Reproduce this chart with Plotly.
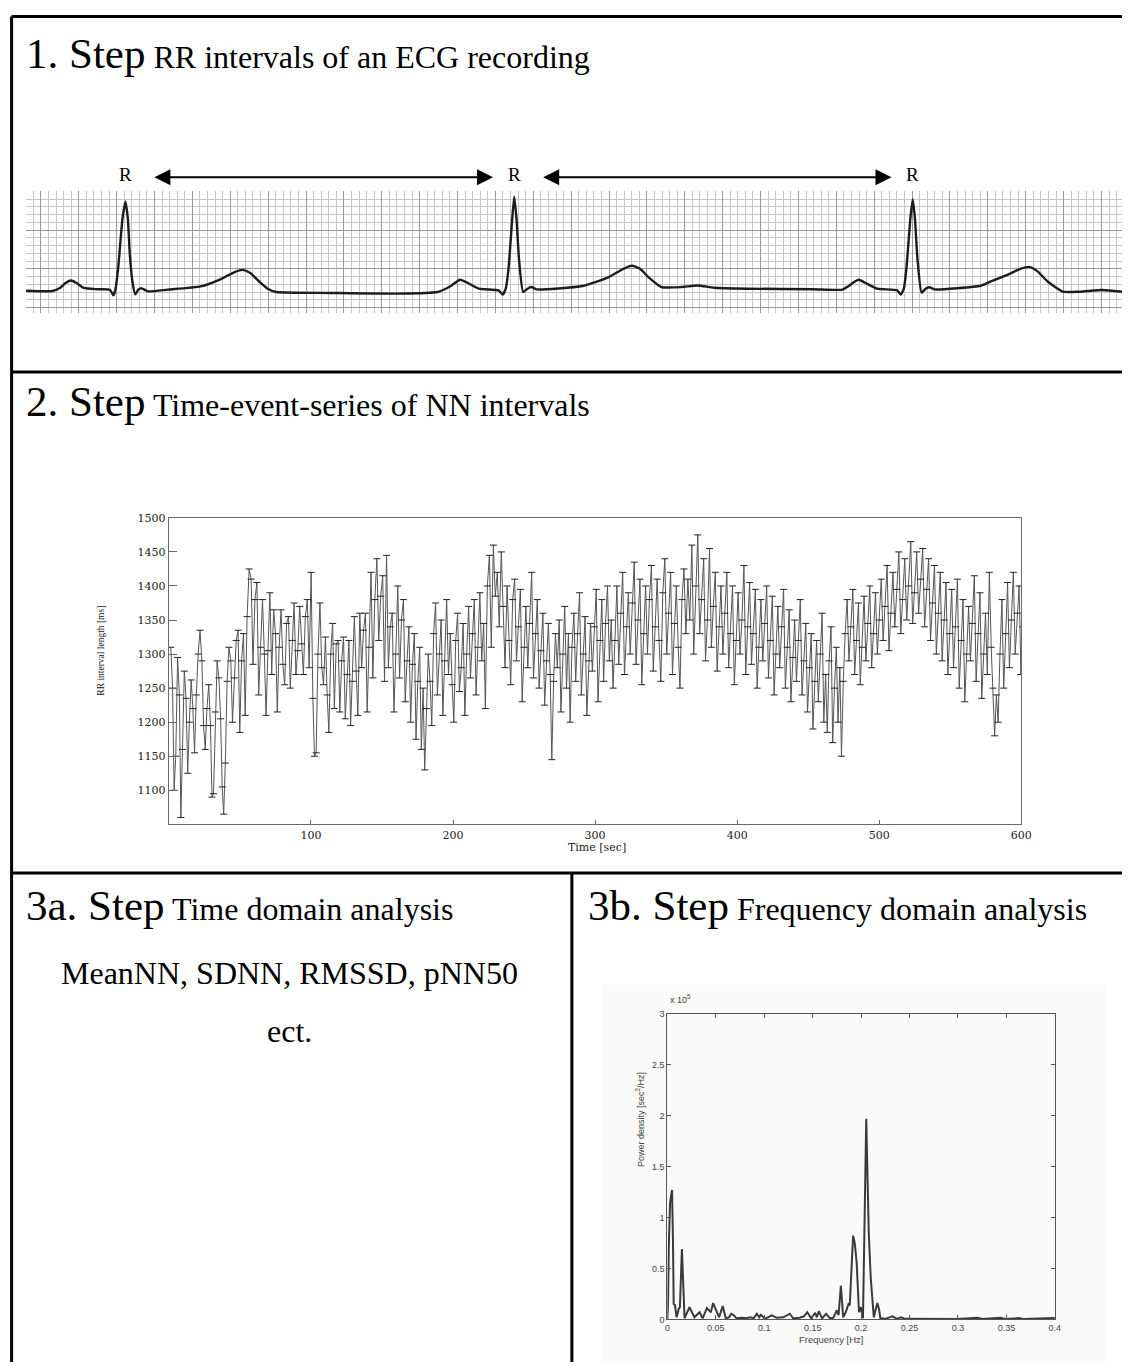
import numpy as np
import plotly.graph_objects as go

W, H = 1133, 1367

# ---------------- Step 1: ECG strip (time in s, amplitude in mV) ----------------
ECG_T = [0.000, 0.139, 0.181, 0.207, 0.235, 0.265, 0.305, 0.374, 0.443, 0.461, 0.473,
         0.487, 0.509, 0.525, 0.538, 0.548, 0.562, 0.577, 0.593, 0.609, 0.644, 0.748,
         0.922, 1.026, 1.104, 1.144, 1.182, 1.234, 1.276, 1.322, 1.615, 1.965,
         2.173, 2.236, 2.292, 2.330, 2.391, 2.495, 2.517, 2.533, 2.549, 2.567, 2.578,
         2.590, 2.603, 2.625, 2.648, 2.669, 2.695, 2.938, 3.077, 3.154, 3.199, 3.242,
         3.286, 3.355, 3.460, 3.546, 3.633, 3.807, 4.155, 4.311,
         4.338, 4.395, 4.431, 4.494, 4.600, 4.619, 4.635, 4.650, 4.669, 4.682, 4.694,
         4.707, 4.729, 4.750, 4.770, 4.797, 5.041, 5.094, 5.182, 5.250, 5.297, 5.338,
         5.396, 5.474, 5.563, 5.683, 5.787]
ECG_MV = [0.000, -0.004, 0.038, 0.096, 0.132, 0.103, 0.035, 0.019, 0.013, -0.060, 0.026,
          0.304, 0.923, 1.150, 0.923, 0.474, 0.115, -0.047, 0.013, 0.032, -0.009, 0.013,
          0.055, 0.147, 0.244, 0.269, 0.231, 0.112, 0.026, -0.017, -0.029, -0.038,
          -0.017, 0.051, 0.141, 0.103, 0.026, 0.004, -0.051, 0.026, 0.321, 0.923, 1.214,
          0.923, 0.410, -0.017, 0.026, 0.047, 0.017, 0.060, 0.176, 0.282, 0.324, 0.282,
          0.176, 0.047, 0.047, 0.068, 0.038, 0.026, 0.019, 0.013,
          0.051, 0.141, 0.103, 0.026, 0.004, -0.051, 0.026, 0.321, 0.923, 1.179, 0.923,
          0.410, -0.026, 0.026, 0.045, 0.017, 0.064, 0.119, 0.205, 0.282, 0.308, 0.256,
          0.115, -0.013, -0.013, 0.009, -0.013]

# ---------------- Step 2: NN interval series (ms) ----------------
RR_MS = [
    1310, 1250, 1100, 1150, 1295, 1240, 1060, 1160, 1275, 1235, 1125, 1200, 1262, 1220, 1155, 1240, 1300, 1335, 1290, 1195,
    1160, 1220, 1255, 1195, 1090, 1095, 1215, 1290, 1265, 1205, 1105, 1065, 1140, 1260, 1310, 1290, 1200, 1265, 1320, 1335,
    1185, 1290, 1330, 1210, 1355, 1425, 1410, 1285, 1380, 1405, 1240, 1310, 1380, 1300, 1210, 1305, 1390, 1270, 1365, 1330,
    1215, 1310, 1365, 1285, 1255, 1345, 1355, 1250, 1320, 1375, 1270, 1305, 1370, 1315, 1270, 1355, 1380, 1280, 1420, 1235,
    1150, 1155, 1300, 1375, 1280, 1255, 1325, 1240, 1185, 1300, 1345, 1220, 1315, 1320, 1215, 1290, 1325, 1205, 1270, 1320,
    1195, 1260, 1355, 1275, 1210, 1360, 1280, 1335, 1360, 1215, 1310, 1420, 1265, 1380, 1440, 1320, 1385, 1415, 1260, 1445,
    1280, 1340, 1360, 1215, 1300, 1400, 1265, 1350, 1380, 1230, 1290, 1340, 1200, 1285, 1330, 1175, 1260, 1310, 1160, 1250,
    1130, 1220, 1300, 1260, 1195, 1330, 1375, 1240, 1300, 1350, 1210, 1290, 1380, 1270, 1330, 1255, 1200, 1320, 1360, 1245,
    1280, 1345, 1210, 1300, 1370, 1265, 1330, 1380, 1240, 1310, 1390, 1290, 1345, 1220, 1400, 1445, 1310, 1460, 1385, 1420,
    1340, 1450, 1370, 1280, 1400, 1320, 1255, 1380, 1410, 1290, 1340, 1395, 1230, 1310, 1370, 1280, 1345, 1420, 1265, 1330,
    1380, 1250, 1305, 1360, 1225, 1290, 1345, 1270, 1145, 1260, 1330, 1280, 1350, 1215, 1300, 1370, 1250, 1330, 1200, 1310,
    1360, 1260, 1330, 1390, 1240, 1300, 1355, 1210, 1290, 1345, 1275, 1340, 1395, 1230, 1320, 1380, 1260, 1345, 1400, 1290,
    1350, 1250, 1320, 1400, 1285, 1360, 1420, 1270, 1340, 1390, 1300, 1375, 1435, 1285, 1350, 1410, 1255, 1330, 1400, 1300,
    1380, 1430, 1275, 1340, 1410, 1320, 1260, 1390, 1440, 1300, 1360, 1420, 1270, 1345, 1400, 1310, 1250, 1380, 1425, 1330,
    1410, 1350, 1460, 1300, 1400, 1475, 1330, 1380, 1440, 1290, 1350, 1455, 1310, 1370, 1420, 1275, 1340, 1400, 1300, 1360,
    1420, 1280, 1330, 1400, 1255, 1320, 1390, 1300, 1350, 1430, 1270, 1340, 1405, 1285, 1330, 1395, 1250, 1310, 1380, 1290,
    1345, 1400, 1265, 1320, 1385, 1240, 1300, 1370, 1280, 1340, 1395, 1250, 1310, 1365, 1230, 1295, 1350, 1260, 1320, 1380,
    1240, 1290, 1345, 1215, 1280, 1330, 1190, 1260, 1320, 1230, 1300, 1360, 1200, 1270, 1185, 1290, 1340, 1170, 1250, 1310,
    1200, 1280, 1150, 1260, 1330, 1380, 1290, 1340, 1395, 1270, 1320, 1375, 1255, 1310, 1385, 1290, 1345, 1400, 1280, 1330,
    1390, 1300, 1350, 1410, 1320, 1370, 1430, 1305, 1360, 1420, 1340, 1395, 1450, 1330, 1380, 1440, 1350, 1400, 1465, 1345,
    1390, 1450, 1360, 1410, 1455, 1340, 1395, 1440, 1320, 1375, 1430, 1300, 1360, 1420, 1290, 1350, 1405, 1270, 1330, 1395,
    1280, 1340, 1410, 1250, 1320, 1380, 1230, 1300, 1370, 1290, 1345, 1415, 1260, 1330, 1390, 1235, 1300, 1360, 1270, 1420,
    1310, 1250, 1180, 1240, 1200, 1300, 1380, 1250, 1330, 1405, 1280, 1350, 1420, 1300, 1360, 1400, 1270, 1340, 1410, 1350,
    1400,
]
RR_YTICKS = [1100, 1150, 1200, 1250, 1300, 1350, 1400, 1450, 1500]
TIME_TICKS = [100, 200, 300, 400, 500, 600]

# ---------------- Step 3b: power spectral density (x 1e5 sec^2/Hz) ----------------
PSD_FREQ = [0.0, 0.0007, 0.0014, 0.002, 0.0027, 0.0037, 0.0048, 0.0058, 0.0065, 0.0078,
            0.0095, 0.0116, 0.0129, 0.015, 0.0163, 0.0177, 0.0228, 0.0279, 0.0333, 0.0364,
            0.0408, 0.0449, 0.0472, 0.0534, 0.0571, 0.0602, 0.0636, 0.0659, 0.0686, 0.0714,
            0.0771, 0.0816, 0.0856, 0.089, 0.0924, 0.0948, 0.0965, 0.1009, 0.1077, 0.1128,
            0.1196, 0.1264, 0.1298, 0.1366, 0.141, 0.1444, 0.1485, 0.1526, 0.1543, 0.1563,
            0.1597, 0.1638, 0.1679, 0.1713, 0.175, 0.1767, 0.1791, 0.1815, 0.1842, 0.1869,
            0.1883, 0.1903, 0.1917, 0.1934, 0.1954, 0.1978, 0.1998, 0.2019, 0.2039, 0.2053,
            0.2066, 0.208, 0.21, 0.2117, 0.2131, 0.2151, 0.2168, 0.2185, 0.2199, 0.225,
            0.2325, 0.2369, 0.241, 0.2454, 0.2658, 0.2997, 0.3201, 0.3252, 0.3439, 0.349,
            0.3626, 0.3677, 0.4]
PSD_VAL = [0.0, 0.17, 0.69, 1.08, 1.14, 1.21, 1.27, 0.75, 0.15, 0.14,
           0.02, 0.10, 0.12, 0.69, 0.43, 0.01, 0.12, 0.02, 0.07, 0.01,
           0.11, 0.07, 0.16, 0.02, 0.13, 0.01, 0.02, 0.055, 0.04, 0.01,
           0.015, 0.01, 0.02, 0.01, 0.055, 0.02, 0.045, 0.005, 0.04, 0.015,
           0.02, 0.055, 0.01, 0.015, 0.03, 0.07, 0.01, 0.065, 0.02, 0.08,
           0.01, 0.055, 0.01, 0.015, 0.09, 0.04, 0.33, 0.02, 0.07, 0.15,
           0.14, 0.59, 0.82, 0.75, 0.56, 0.07, 0.12, 0.01, 1.08, 1.97,
           1.40, 0.82, 0.40, 0.14, 0.02, 0.10, 0.16, 0.10, 0.01, 0.005,
           0.03, 0.005, 0.02, 0.005, 0.003, 0.003, 0.015, 0.003, 0.015, 0.003,
           0.012, 0.003, 0.012]
PSD_XTICKS = [0, 0.05, 0.1, 0.15, 0.2, 0.25, 0.3, 0.35, 0.4]
PSD_XLABELS = ["0", "0.05", "0.1", "0.15", "0.2", "0.25", "0.3", "0.35", "0.4"]
PSD_YTICKS = [0, 0.5, 1, 1.5, 2, 2.5, 3]
PSD_YLABELS = ["0", "0.5", "1", "1.5", "2", "2.5", "3"]


def px(x):
    return x / W


def py(y):
    return 1 - y / H


SERIF = "'Liberation Serif', 'Times New Roman', serif"
WIDE_SERIF = "'DejaVu Serif', serif"
SANS = "'Liberation Sans', Arial, sans-serif"

beat_times = np.cumsum(RR_MS) / 1000.0

# R peak times taken from the ECG samples (one per beat)
ecg_t = np.array(ECG_T)
ecg_v = np.array(ECG_MV)
r_times = []
for lo, hi in [(0, 1.5), (1.5, 3.6), (3.6, 6.0)]:
    m = (ecg_t >= lo) & (ecg_t < hi)
    r_times.append(float(ecg_t[m][np.argmax(ecg_v[m])]))

fig = go.Figure()

fig.add_trace(go.Scatter(
    x=ECG_T, y=ECG_MV, mode="lines", xaxis="x", yaxis="y",
    line=dict(color="#1c1c1c", width=2.4, shape="spline", smoothing=0.5),
    hoverinfo="skip"))

fig.add_trace(go.Scatter(
    x=beat_times, y=RR_MS, mode="lines+markers", xaxis="x2", yaxis="y2",
    line=dict(color="#555555", width=1),
    marker=dict(symbol="line-ew", size=5, line=dict(color="#222222", width=1)),
    hoverinfo="skip"))

fig.add_trace(go.Scatter(
    x=PSD_FREQ, y=PSD_VAL, mode="lines", xaxis="x3", yaxis="y3",
    line=dict(color="#3a3a3a", width=2),
    hoverinfo="skip"))

# ECG paper: x in seconds (0.2 s major / 0.04 s minor), y in mV (0.5 / 0.1)
ecg_x = dict(domain=[px(23.3), 1.0], range=[0, 5.787], anchor="y",
             showgrid=True, gridcolor="#9a9a9a", gridwidth=1.2,
             tick0=0.0785, dtick=0.2, showticklabels=False, ticks="",
             zeroline=False, showline=False,
             minor=dict(showgrid=True, tick0=0.0785, dtick=0.04,
                        gridcolor="#c6c6c6", gridwidth=1))
ecg_y = dict(domain=[py(309.3), py(186.7)], range=[-0.286, 1.286], anchor="x",
             showgrid=True, gridcolor="#9a9a9a", gridwidth=1.2,
             tick0=-0.218, dtick=0.5, showticklabels=False, ticks="",
             zeroline=False, showline=False,
             minor=dict(showgrid=True, tick0=-0.218, dtick=0.1,
                        gridcolor="#c6c6c6", gridwidth=1))

rr_x = dict(domain=[px(168), px(1031)], range=[0, 600], anchor="y2",
            tickvals=TIME_TICKS, ticks="inside", ticklen=4, tickcolor="#6a6a6a",
            showline=True, linecolor="#6a6a6a", linewidth=1.2, mirror=True,
            showgrid=False, zeroline=False,
            tickfont=dict(family=WIDE_SERIF, size=11, color="#222222"))
rr_y = dict(domain=[py(825), py(516)], range=[1050, 1500], anchor="x2",
            tickvals=RR_YTICKS, ticks="inside", ticklen=8, tickcolor="#6a6a6a",
            showline=True, linecolor="#6a6a6a", linewidth=1.2, mirror=True,
            showgrid=False, zeroline=False,
            tickfont=dict(family=WIDE_SERIF, size=11, color="#222222"))

psd_x = dict(domain=[px(672.7), px(1065)], range=[0, 0.4], anchor="y3",
             tickvals=PSD_XTICKS, ticktext=PSD_XLABELS, ticks="inside", ticklen=4,
             tickcolor="#555555", showline=True, linecolor="#555555", linewidth=1,
             mirror="ticks", showgrid=False, zeroline=False,
             tickfont=dict(family=SANS, size=9, color="#444444"))
psd_y = dict(domain=[py(1324), py(1016)], range=[0, 3], anchor="x3",
             tickvals=PSD_YTICKS, ticktext=PSD_YLABELS, ticks="inside", ticklen=4,
             tickcolor="#555555", showline=True, linecolor="#555555", linewidth=1,
             mirror="ticks", showgrid=False, zeroline=False,
             tickfont=dict(family=SANS, size=9, color="#444444"))

# table frame: top and left edges, row rules and the column rule of row 3
shapes = []
frame = dict(type="line", xref="paper", yref="paper",
             line=dict(color="black", width=3))
LEFT, TOP = 8.7, 10.5
ROW1, ROW2, COL = 369, 874, 576
shapes.append({**frame, "x0": px(LEFT), "x1": 1.0, "y0": py(TOP), "y1": py(TOP)})
shapes.append({**frame, "x0": px(LEFT), "x1": px(LEFT), "y0": py(TOP), "y1": 0.0})
shapes.append({**frame, "x0": px(LEFT), "x1": 1.0, "y0": py(ROW1), "y1": py(ROW1)})
shapes.append({**frame, "x0": px(LEFT), "x1": 1.0, "y0": py(ROW2), "y1": py(ROW2)})
shapes.append({**frame, "x0": px(COL), "x1": px(COL), "y0": py(ROW2), "y1": 0.0})
# faint backdrop of the spectrum figure
shapes.append(dict(type="rect", xref="paper", yref="paper", layer="below",
                   x0=px(607), x1=px(1118), y0=0.0, y1=py(987),
                   fillcolor="#fafafa", line=dict(width=0)))

ann = []


def heading(x, baseline, big, small):
    ann.append(dict(x=px(x), y=py(baseline + 10), xref="paper", yref="paper",
                    xanchor="left", yanchor="bottom", showarrow=False,
                    text=f"{big}<span style='font-size:32px'> {small}</span>",
                    font=dict(family=SERIF, size=43, color="black")))


heading(21, 64, "1. Step", "RR intervals of an ECG recording")
heading(21, 414, "2. Step", "Time-event-series of NN intervals")
heading(21, 922, "3a. Step", "Time domain analysis")
heading(590, 922, "3b. Step", "Frequency domain analysis")

for txt, base in [("MeanNN, SDNN, RMSSD, pNN50", 987), ("ect.", 1045)]:
    ann.append(dict(x=px(290), y=py(base + 8), xref="paper", yref="paper",
                    xanchor="center", yanchor="bottom", showarrow=False, text=txt,
                    font=dict(family=SERIF, size=32, color="black")))

# R labels and RR-interval arrows
for rt in r_times:
    ann.append(dict(x=rt, y=py(170), xref="x", yref="paper", showarrow=False,
                    xanchor="center", yanchor="middle", text="R",
                    font=dict(family=SERIF, size=19, color="black")))
for a, b in zip(r_times[:-1], r_times[1:]):
    ann.append(dict(x=b - 0.112, y=py(172.7), xref="x", yref="paper",
                    ax=a + 0.145, ay=0, axref="x", ayref="pixel",
                    showarrow=True, arrowside="end+start", arrowhead=2,
                    arrowsize=1.6, arrowwidth=2, arrowcolor="black",
                    standoff=0, startstandoff=0, text=""))

# tachogram axis labels
ann.append(dict(x=px(92), y=py(650), xref="paper", yref="paper", showarrow=False,
                textangle=-90, text="RR interval length [ms]",
                font=dict(family=SERIF, size=9.5, color="#222222")))
ann.append(dict(x=px(601), y=py(848), xref="paper", yref="paper", showarrow=False,
                text="Time [sec]", font=dict(family=WIDE_SERIF, size=11, color="#222222")))

# spectrum axis labels
ann.append(dict(x=px(871.7), y=py(1351), xref="paper", yref="paper", showarrow=False,
                text="Frequency [Hz]", borderpad=0,
                font=dict(family=SANS, size=9.5, color="#444444")))
ann.append(dict(x=px(645), y=py(1173), xref="paper", yref="paper", showarrow=False,
                textangle=-90, text="Power density [sec<sup>2</sup>/Hz]",
                font=dict(family=SANS, size=9, color="#444444")))
ann.append(dict(x=px(673), y=py(1009), xref="paper", yref="paper", showarrow=False,
                xanchor="left", text="x 10<sup>5</sup>",
                font=dict(family=SANS, size=9, color="#444444")))

fig.update_layout(
    width=W, height=H, margin=dict(l=0, r=0, t=0, b=0),
    paper_bgcolor="white", plot_bgcolor="rgba(0,0,0,0)", showlegend=False,
    xaxis=ecg_x, yaxis=ecg_y, xaxis2=rr_x, yaxis2=rr_y, xaxis3=psd_x, yaxis3=psd_y,
    shapes=shapes, annotations=ann)

fig.write_html("out.html")
